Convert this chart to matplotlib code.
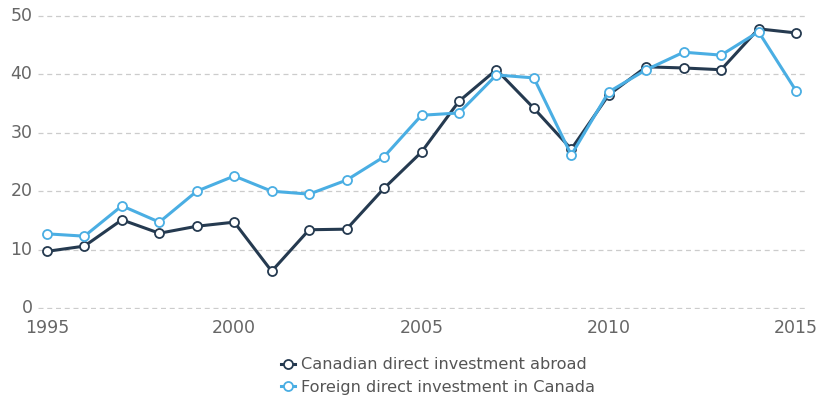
import matplotlib.pyplot as plt

years = list(range(1995, 2016))
cdia = [9.7, 10.6, 15.1, 12.8, 14.0, 14.7, 6.3, 13.4, 13.5, 20.5, 26.7,
        35.4, 40.8, 34.2, 27.2, 36.5, 41.3, 41.1, 40.8, 47.8, 47.1]
fdi = [12.7, 12.3, 17.5, 14.7, 20.0, 22.6, 20.0, 19.5, 21.9, 25.9, 33.0,
       33.4, 39.9, 39.4, 26.2, 37.0, 40.8, 43.8, 43.3, 47.3, 37.2]
labels = ["Canadian direct investment abroad", "Foreign direct investment in Canada"]
colors = ["#253a50", "#4aaee3"]

fig = plt.figure(figsize=(8.17, 4.0), dpi=100)
ax = fig.add_axes([38 / 817, 1 - 309 / 400, (805 - 38) / 817, (309 - 15) / 400])

for series, name, c in zip([cdia, fdi], labels, colors):
    ax.plot(years, series, color=c, lw=2.2, marker='o', ms=6.5,
            mfc='white', mec=c, mew=1.3, label=name, zorder=3, clip_on=False)

ax.set_xlim(1994.76, 2015.24)
ax.set_ylim(-0.17, 50.17)
ax.set_xticks([1995, 2000, 2005, 2010, 2015])
ax.set_yticks(range(0, 51, 10))
ax.grid(axis='y', color='#cccccc', ls=(0, (4, 3)), lw=0.9)
ax.set_axisbelow(True)
for s in ax.spines.values():
    s.set_visible(False)
ax.tick_params(length=0, labelsize=12.5, colors='#666666')
ax.tick_params(axis='x', pad=7)
ax.tick_params(axis='y', pad=4)
for t in ax.get_yticklabels():
    t.set_va('center')

fig.legend(loc='center', bbox_to_anchor=(438 / 817, 1 - 376 / 400), frameon=False,
           fontsize=11.6, handlelength=0.9, handletextpad=0.4, labelspacing=0.45,
           labelcolor='#555555')

fig.savefig('out.png', dpi=100)
